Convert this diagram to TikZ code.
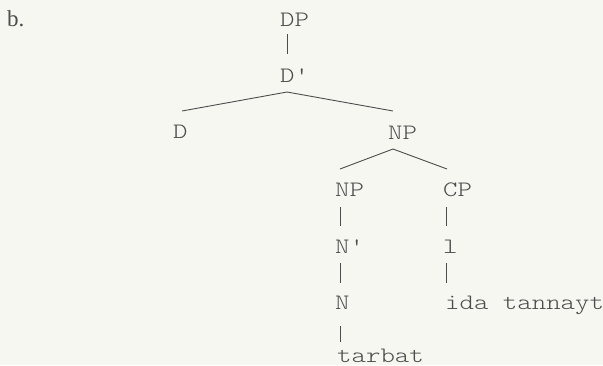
\documentclass[tikz,border=0pt]{standalone}
\usepackage{fontspec}
\newfontfamily\treemono[FakeStretch=1.25]{Latin Modern Mono Light}
\newfontfamily\treeserif{Liberation Serif}
\definecolor{bg}{rgb}{0.969,0.969,0.949}
\definecolor{ink}{rgb}{0.30,0.30,0.30}
\tikzset{
  lab/.style={anchor=base west, inner sep=0pt, text=ink, font=\treemono\fontsize{22bp}{24bp}\selectfont},
  edge/.style={draw=ink, line width=0.9pt},
}
\begin{document}
\begin{tikzpicture}[x=1bp, y=-1bp]
\fill[bg] (0,0) rectangle (603,365);
\useasboundingbox (0,0) rectangle (603,365);
\node[anchor=base west, inner sep=0pt, text=ink, font=\treeserif\fontsize{23bp}{24bp}\selectfont] (b) at (7,26) {b.};
% nodes
\node[lab] (dp) at (280,26) {DP};
\node[lab] (dbar) at (280,82) {D'};
\node[lab] (d) at (173,138) {D};
\node[lab] (np) at (388,139) {NP};
\node[lab] (np2) at (335,196) {NP};
\node[lab] (cp) at (443,196) {CP};
\node[lab] (nbar) at (335,253) {N'};
\node[lab] (l) at (443,253) {l};
\node[lab] (n) at (335,309) {N};
\node[lab] (ida) at (445,309) {ida tannayt};
\node[lab] (tarbat) at (337,362) {tarbat};
% connector points
\coordinate (dpB) at (287,34);
\coordinate (dbarT) at (287,54);
\coordinate (dbarB) at (287,92);
\coordinate (dT) at (182,111);
\coordinate (npT) at (393,111);
\coordinate (npB) at (393,149);
\coordinate (np2T) at (340,169);
\coordinate (cpT) at (447,169);
\coordinate (np2B) at (340,207);
\coordinate (nbarT) at (340,226);
\coordinate (cpB) at (446,207);
\coordinate (lT) at (446,226);
\coordinate (nbarB) at (340,263);
\coordinate (nT) at (340,283);
\coordinate (lB) at (446,263);
\coordinate (idaT) at (446,283);
\coordinate (nB) at (340,326);
\coordinate (tarbatT) at (340,342);
% connectors
\draw[edge] (dpB) -- (dbarT);
\draw[edge] (dT) -- (dbarB) -- (npT);
\draw[edge] (np2T) -- (npB) -- (cpT);
\draw[edge] (np2B) -- (nbarT);
\draw[edge] (cpB) -- (lT);
\draw[edge] (nbarB) -- (nT);
\draw[edge] (lB) -- (idaT);
\draw[edge] (nB) -- (tarbatT);
\end{tikzpicture}
\end{document}
